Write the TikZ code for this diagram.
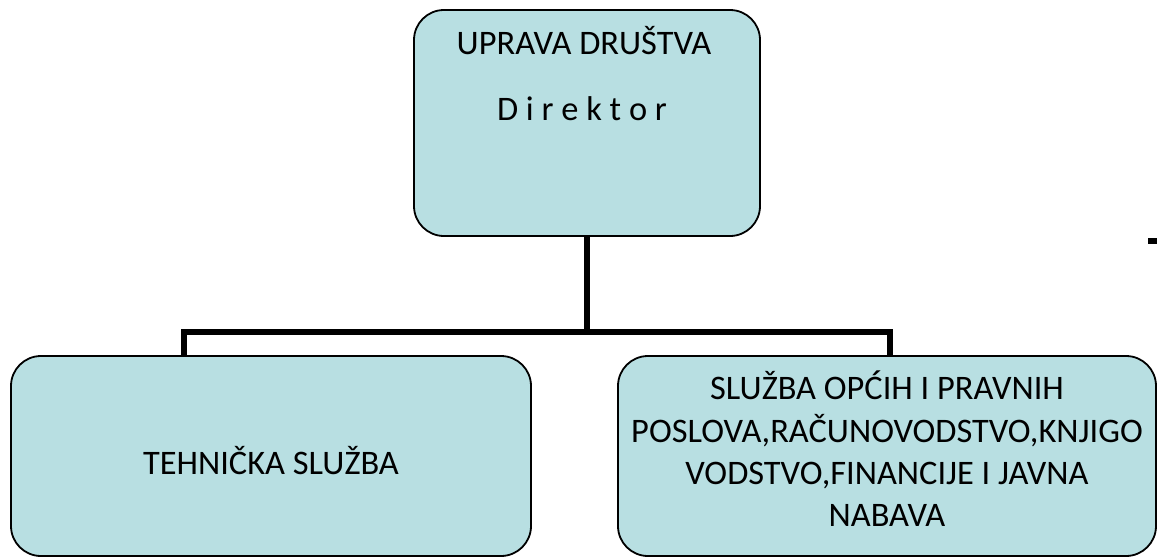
\documentclass[tikz,border=0pt]{standalone}
\usepackage{fontspec}
\setmainfont{Carlito}
\definecolor{boxfill}{HTML}{B8DFE2}
\begin{document}
\begin{tikzpicture}[x=1pt,y=-1pt,
  orgbox/.style={draw=black, line width=1.8pt, fill=boxfill, rounded corners=30pt, inner sep=0pt},
  conn/.style={draw=black, line width=6pt, line cap=butt, line join=miter},
  lbl/.style={font=\fontsize{34.4}{42.3}\selectfont, inner sep=0pt, align=center}]
\useasboundingbox (0,0) rectangle (1157,557);
\node[orgbox, minimum width=346pt, minimum height=226pt] (top) at (587,123) {};
\node[orgbox, minimum width=520pt, minimum height=200pt] (left) at (271,456) {};
\node[orgbox, minimum width=538pt, minimum height=200pt] (right) at (887,456) {};
\node[lbl, anchor=base] (t1) at (584,54) {UPRAVA DRUŠTVA};
\node[lbl, anchor=base] (t2) at (582,120) {D i r e k t o r};
\node[lbl, anchor=base] (tl) at (271,474) {TEHNIČKA SLUŽBA};
\node[lbl] (tr) at (887,449) {SLUŽBA OPĆIH I PRAVNIH\\POSLOVA,RAČUNOVODSTVO,KNJIGO\\VODSTVO,FINANCIJE I JAVNA\\NABAVA};
\coordinate (bus) at (587,332);
\coordinate (lj) at (184,355);
\coordinate (rj) at (890,355);
\draw[conn] (top.south) -- (bus);
\draw[conn] (lj) |- (bus) -| (rj);
\fill[black] (1148,238) rectangle (1157,244);
\end{tikzpicture}
\end{document}
